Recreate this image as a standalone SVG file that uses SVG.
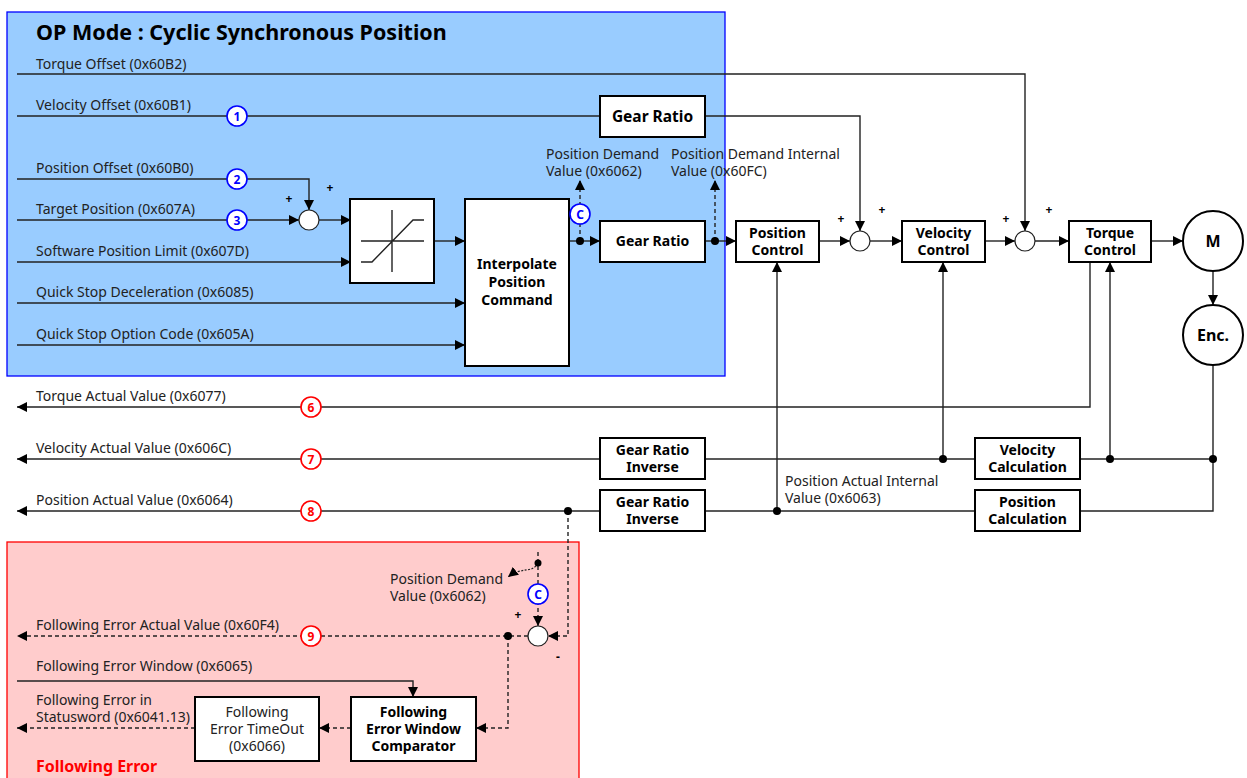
<svg xmlns="http://www.w3.org/2000/svg" width="1247" height="778" viewBox="0 0 1247 778">
<style>
text{font-family:"Noto Sans","Liberation Sans",sans-serif;fill:#222}
.lb{font-size:14px}
.bx{fill:#fff;stroke:#000;stroke-width:2}
.bt{font-size:14px;font-weight:bold;fill:#000;text-anchor:middle}
.ln{fill:none;stroke:#222;stroke-width:1.4}
.ds{fill:none;stroke:#222;stroke-width:1.4;stroke-dasharray:4,3}
.sum{fill:#fff;stroke:#222;stroke-width:1.2}
.cb{fill:#fff;stroke:#0000ff;stroke-width:1.6}
.cr{fill:#fff;stroke:#ff0000;stroke-width:1.6}
.tb{font-size:12px;font-weight:bold;fill:#0000ff;text-anchor:middle}
.tr{font-size:12px;font-weight:bold;fill:#ff0000;text-anchor:middle}
.pl{font-size:12px;font-weight:bold;fill:#000;text-anchor:middle}
</style>
<defs>
<marker id="a" viewBox="0 0 10 10" refX="10" refY="5" markerWidth="10" markerHeight="10" markerUnits="userSpaceOnUse" orient="auto"><path d="M0,0 L10,5 L0,10 z" fill="#000"/></marker>
</defs>

<g id="op-mode-area">
<rect x="7" y="12" width="718" height="364" fill="#99ccff" stroke="#0000ff" stroke-width="1.3"/>
<text x="36" y="40" style="font-size:21.5px;font-weight:bold;fill:#000">OP Mode : Cyclic Synchronous Position</text>
</g>
<g id="following-error-area">
<rect x="7" y="542" width="572" height="240" fill="#ffcccc" stroke="#ff0000" stroke-width="1.3"/>
<text x="36" y="772" style="font-size:16px;font-weight:bold;fill:#ff0000">Following Error</text>
</g>

<g id="labels">
<text class="lb" x="36" y="69">Torque Offset (0x60B2)</text>
<text class="lb" x="36" y="110">Velocity Offset (0x60B1)</text>
<text class="lb" x="36" y="173">Position Offset (0x60B0)</text>
<text class="lb" x="36" y="214">Target Position (0x607A)</text>
<text class="lb" x="36" y="256">Software Position Limit (0x607D)</text>
<text class="lb" x="36" y="297">Quick Stop Deceleration (0x6085)</text>
<text class="lb" x="36" y="339">Quick Stop Option Code (0x605A)</text>
<text class="lb" x="546" y="159">Position Demand</text>
<text class="lb" x="546" y="176">Value (0x6062)</text>
<text class="lb" x="671" y="159">Position Demand Internal</text>
<text class="lb" x="671" y="176">Value (0x60FC)</text>
<text class="lb" x="36" y="401">Torque Actual Value (0x6077)</text>
<text class="lb" x="36" y="453">Velocity Actual Value (0x606C)</text>
<text class="lb" x="36" y="505">Position Actual Value (0x6064)</text>
<text class="lb" x="785" y="486">Position Actual Internal</text>
<text class="lb" x="785" y="503">Value (0x6063)</text>
<text class="lb" x="390" y="584">Position Demand</text>
<text class="lb" x="390" y="601">Value (0x6062)</text>
<text class="lb" x="36" y="630">Following Error Actual Value (0x60F4)</text>
<text class="lb" x="36" y="671">Following Error Window (0x6065)</text>
<text class="lb" x="36" y="705">Following Error in</text>
<text class="lb" x="36" y="722">Statusword (0x6041.13)</text>
<text class="pl" x="289" y="203">+</text>
<text class="pl" x="330" y="192">+</text>
<text class="pl" x="841" y="223">+</text>
<text class="pl" x="882" y="214">+</text>
<text class="pl" x="1006" y="223">+</text>
<text class="pl" x="1049" y="214">+</text>
<text class="pl" x="518" y="619">+</text>
<text class="pl" x="558" y="661">-</text>
</g>

<g id="connectors">
<path class="ln" d="M17,74 H1025 V231" marker-end="url(#a)"/>
<path class="ln" d="M17,116 H600"/>
<path class="ln" d="M705,116 H860 V231" marker-end="url(#a)"/>
<path class="ln" d="M17,179 H309 V210" marker-end="url(#a)"/>
<path class="ln" d="M17,220 H299" marker-end="url(#a)"/>
<path class="ln" d="M319,220 H351" marker-end="url(#a)"/>
<path class="ln" d="M17,262 H351" marker-end="url(#a)"/>
<path class="ln" d="M434,241 H465" marker-end="url(#a)"/>
<path class="ln" d="M17,303 H465" marker-end="url(#a)"/>
<path class="ln" d="M17,345 H465" marker-end="url(#a)"/>
<path class="ln" d="M570,241 H600" marker-end="url(#a)"/>
<path class="ds" d="M580,241 V180" marker-end="url(#a)"/>
<path class="ln" d="M705,241 H736" marker-end="url(#a)"/>
<path class="ds" d="M715,241 V180" marker-end="url(#a)"/>
<path class="ln" d="M819,241 H850" marker-end="url(#a)"/>
<path class="ln" d="M870,241 H902" marker-end="url(#a)"/>
<path class="ln" d="M985,241 H1015" marker-end="url(#a)"/>
<path class="ln" d="M1035,241 H1069" marker-end="url(#a)"/>
<path class="ln" d="M1151,241 H1183" marker-end="url(#a)"/>
<path class="ln" d="M1213,271 V305" marker-end="url(#a)"/>
<path class="ln" d="M1213,365 V511 H1080"/>
<path class="ln" d="M1213,459 H1080"/>
<path class="ln" d="M1110,459 V262" marker-end="url(#a)"/>
<path class="ln" d="M975,459 H705"/>
<path class="ln" d="M943,459 V262" marker-end="url(#a)"/>
<path class="ln" d="M975,511 H705"/>
<path class="ln" d="M777,511 V262" marker-end="url(#a)"/>
<path class="ln" d="M600,459 H17" marker-end="url(#a)"/>
<path class="ln" d="M600,511 H17" marker-end="url(#a)"/>
<path class="ln" d="M1090,262 V407 H17" marker-end="url(#a)"/>
<path class="ds" d="M568,511 V636 H548" marker-end="url(#a)"/>
<path class="ds" d="M528,636 H17" marker-end="url(#a)"/>
<path class="ds" d="M508,636 V728 H476" marker-end="url(#a)"/>
<path class="ds" d="M351,728 H319" marker-end="url(#a)"/>
<path class="ds" d="M195,728 H17" marker-end="url(#a)"/>
<path class="ln" d="M17,681 H413 V697" marker-end="url(#a)"/>
<path class="ds" d="M538,552 V626" marker-end="url(#a)"/>
<path d="M538,563 C532,574 522,566 508,577" fill="none" stroke="#222" stroke-width="1.2" stroke-dasharray="2,1.5" marker-end="url(#a)"/>
<g fill="#000">
<circle cx="580" cy="241" r="4"/>
<circle cx="715" cy="241" r="4"/>
<circle cx="777" cy="511" r="4"/>
<circle cx="943" cy="459" r="4"/>
<circle cx="1110" cy="459" r="4"/>
<circle cx="1213" cy="459" r="4"/>
<circle cx="568" cy="511" r="4"/>
<circle cx="508" cy="636" r="4"/>
<circle cx="538" cy="563" r="3.5"/>
</g>
</g>

<g id="sum-junctions">
<circle class="sum" cx="309" cy="220" r="10"/>
<circle class="sum" cx="860" cy="241" r="10"/>
<circle class="sum" cx="1025" cy="241" r="10"/>
<circle class="sum" cx="538" cy="636" r="10"/>
</g>

<g id="limiter">
<rect class="bx" x="350" y="199" width="84" height="84"/>
<path d="M392,210 V272 M361,241 H424 M361,262 H372 L413,220 H424" fill="none" stroke="#222" stroke-width="1.4"/>
</g>
<g id="interpolate">
<rect class="bx" x="465" y="199" width="104" height="167"/>
<text class="bt" x="517" y="269">Interpolate</text>
<text class="bt" x="517" y="287">Position</text>
<text class="bt" x="517" y="305">Command</text>
</g>
<g id="gear-ratio-velocity">
<rect class="bx" x="600" y="96" width="105" height="41"/>
<text class="bt" x="652.5" y="122" style="font-size:15.5px">Gear Ratio</text>
</g>
<g id="gear-ratio-position">
<rect class="bx" x="600" y="221" width="105" height="41"/>
<text class="bt" x="652.5" y="246">Gear Ratio</text>
</g>
<g id="position-control">
<rect class="bx" x="736" y="221" width="83" height="41"/>
<text class="bt" x="777.5" y="238">Position</text>
<text class="bt" x="777.5" y="255">Control</text>
</g>
<g id="velocity-control">
<rect class="bx" x="902" y="221" width="83" height="41"/>
<text class="bt" x="943.5" y="238">Velocity</text>
<text class="bt" x="943.5" y="255">Control</text>
</g>
<g id="torque-control">
<rect class="bx" x="1069" y="221" width="82" height="41"/>
<text class="bt" x="1110" y="238">Torque</text>
<text class="bt" x="1110" y="255">Control</text>
</g>
<g id="motor">
<circle cx="1213" cy="241" r="30" fill="#fff" stroke="#000" stroke-width="2"/>
<text class="bt" x="1213" y="247" style="font-size:16px">M</text>
</g>
<g id="encoder">
<circle cx="1213" cy="335" r="30" fill="#fff" stroke="#000" stroke-width="2"/>
<text class="bt" x="1213" y="341" style="font-size:16px">Enc.</text>
</g>
<g id="gear-ratio-inverse-velocity">
<rect class="bx" x="600" y="438" width="105" height="41"/>
<text class="bt" x="652.5" y="455">Gear Ratio</text>
<text class="bt" x="652.5" y="472">Inverse</text>
</g>
<g id="gear-ratio-inverse-position">
<rect class="bx" x="600" y="490" width="105" height="41"/>
<text class="bt" x="652.5" y="507">Gear Ratio</text>
<text class="bt" x="652.5" y="524">Inverse</text>
</g>
<g id="velocity-calculation">
<rect class="bx" x="975" y="438" width="105" height="41"/>
<text class="bt" x="1027.5" y="455">Velocity</text>
<text class="bt" x="1027.5" y="472">Calculation</text>
</g>
<g id="position-calculation">
<rect class="bx" x="975" y="490" width="105" height="41"/>
<text class="bt" x="1027.5" y="507">Position</text>
<text class="bt" x="1027.5" y="524">Calculation</text>
</g>
<g id="fe-window-comparator">
<rect class="bx" x="351" y="697" width="125" height="64"/>
<text class="bt" x="413.5" y="717">Following</text>
<text class="bt" x="413.5" y="734">Error Window</text>
<text class="bt" x="413.5" y="751">Comparator</text>
</g>
<g id="fe-timeout">
<rect class="bx" x="195" y="697" width="124" height="64"/>
<text class="lb" x="257" y="717" text-anchor="middle">Following</text>
<text class="lb" x="257" y="734" text-anchor="middle">Error TimeOut</text>
<text class="lb" x="257" y="751" text-anchor="middle">(0x6066)</text>
</g>

<g id="markers-numbered">
<circle class="cb" cx="237" cy="116" r="10"/><text class="tb" x="237" y="120.5">1</text>
<circle class="cb" cx="237" cy="179" r="10"/><text class="tb" x="237" y="183.5">2</text>
<circle class="cb" cx="237" cy="220" r="10"/><text class="tb" x="237" y="224.5">3</text>
<circle class="cb" cx="580" cy="214" r="10"/><text class="tb" x="580" y="218.5">C</text>
<circle class="cb" cx="538" cy="594" r="10"/><text class="tb" x="538" y="598.5">C</text>
<circle class="cr" cx="311" cy="407" r="10"/><text class="tr" x="311" y="411.5">6</text>
<circle class="cr" cx="311" cy="459" r="10"/><text class="tr" x="311" y="463.5">7</text>
<circle class="cr" cx="311" cy="511" r="10"/><text class="tr" x="311" y="515.5">8</text>
<circle class="cr" cx="311" cy="636" r="10"/><text class="tr" x="311" y="640.5">9</text>
</g>
</svg>
